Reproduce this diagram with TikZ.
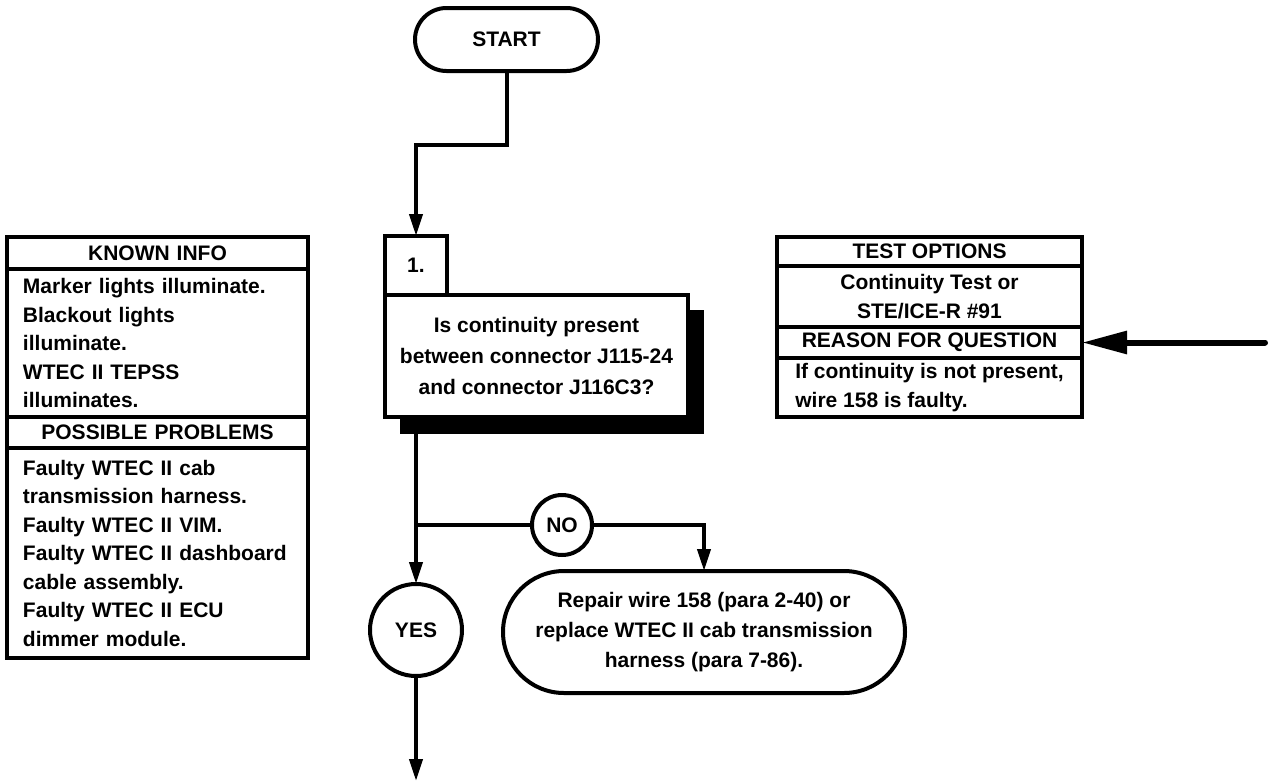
\documentclass[tikz,border=0pt]{standalone}
\usepackage{fontspec}
\setmainfont{Liberation Sans}
\usepackage{tikz}
\usetikzlibrary{arrows.meta,positioning,backgrounds}

\begin{document}
\begin{tikzpicture}[x=0.5pt,y=-0.5pt,
    font=\fontsize{10.5}{14.25}\selectfont\bfseries,
    line width=2pt,
    every node/.style={inner sep=0pt, outer sep=0pt},
    arr/.style={-{Triangle[length=11pt,width=6.5pt]}},
    bigarr/.style={line width=3pt, line cap=round, -{Triangle[length=22.5pt,width=11pt]}},
    term/.style={draw, fill=white, align=center},
    qbox/.style={draw, fill=white, align=center, minimum width=151.5pt, minimum height=61pt,
                 font=\fontsize{10.5}{15.5}\selectfont\bfseries},
    answer/.style={draw, circle, fill=white},
    kcol/.style={draw, inner xsep=8pt, text width=134.5pt},
    tcol/.style={draw, minimum width=152.5pt},
    head/.style={align=center},
    body/.style={align=left}
]
\useasboundingbox (0,0) rectangle (1269,782);

% ---- Inicio y pregunta 1 ----
\node[term, rounded corners=15.75pt, minimum width=91.5pt, minimum height=31.5pt] (start) at (506.5,39.5) {START};
\coordinate (bend) at (506.5,145);

\node[draw, minimum width=31pt, minimum height=29.5pt] (num) at (416,265.5) {1.};
\node[qbox] (q) at (536.5,356) {Is continuity present\\between connector J115-24\\and connector J116C3?};
\begin{scope}[on background layer]
  \fill ([shift={(15,17)}]q.south west) rectangle ([shift={(16,15)}]q.north east);
\end{scope}

% ---- Respuestas ----
\node[answer, minimum size=30pt] (no) at (562,525) {NO};
\node[answer, minimum size=46pt] (yes) at (416,630) {YES};
\node[term, rounded corners=30.5pt, minimum width=201pt, minimum height=61pt,
      font=\fontsize{10.5}{15}\selectfont\bfseries] (repair) at (704,632)
  {Repair wire 158 (para 2-40) or\\replace WTEC II cab transmission\\harness (para 7-86).};
\coordinate (split) at (416,525);
\coordinate (next) at (416,781);

% ---- Tabla izquierda ----
\node[kcol, head, minimum height=16pt] (known) at (157.5,253) {KNOWN INFO};
\node[kcol, body, minimum height=74pt] (knownbody) at (157.5,343)
  {Marker lights illuminate.\\Blackout lights\\illuminate.\\WTEC II TEPSS\\illuminates.};
\node[kcol, head, minimum height=15.5pt] (possible) at (157.5,432.5) {POSSIBLE PROBLEMS};
\node[kcol, body, minimum height=105pt] (possiblebody) at (157.5,553)
  {Faulty WTEC II cab\\transmission harness.\\Faulty WTEC II VIM.\\Faulty WTEC II dashboard\\cable assembly.\\Faulty WTEC II ECU\\dimmer module.};

% ---- Tabla derecha ----
\node[tcol, head, minimum height=14.5pt] (test) at (929.5,251.5) {TEST OPTIONS};
\node[tcol, head, minimum height=30.5pt] (testbody) at (929.5,296.5) {Continuity Test or\\STE/ICE-R \#91};
\node[tcol, head, minimum height=15.5pt] (reason) at (929.5,342.5) {REASON FOR QUESTION};
\node[tcol, body, minimum height=29.5pt] (reasonbody) at (929.5,387.5) {If continuity is not present,\\wire 158 is faulty.};
\coordinate (pointer) at (1265,342.5);

% Conectores
\draw[arr] (start.south) -- (bend) -| (num.north);
\draw[arr] (q.south -| num.south) -- (yes.north);
\draw (split) -- (no.west);
\draw[arr] (no.east) -| (repair.north);
\draw[arr] (yes.south) -- (next);
\draw[bigarr] (pointer) -- (reason.east);

\end{tikzpicture}
\end{document}
